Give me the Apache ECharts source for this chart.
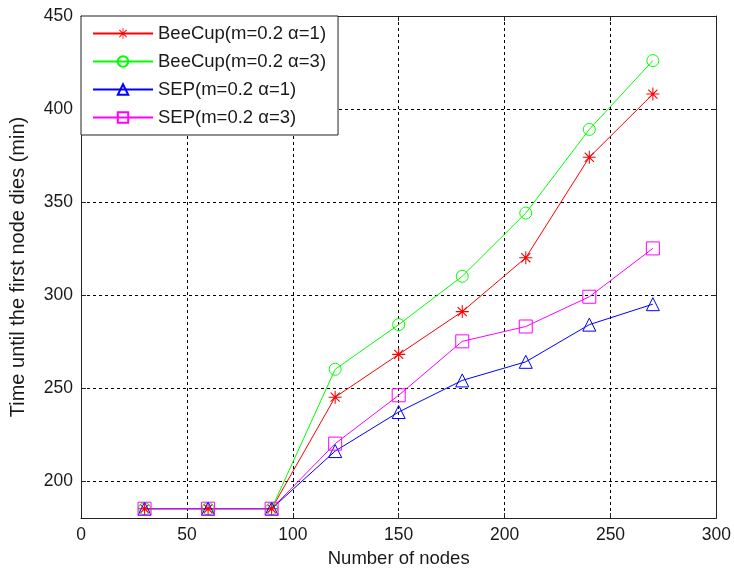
<!DOCTYPE html>
<html><head><meta charset="utf-8">
<script src="https://cdn.jsdelivr.net/npm/echarts@6/dist/echarts.min.js"></script>
<style>html,body{margin:0;padding:0;background:#fff}#c{width:734px;height:574px}</style>
</head><body><div id="c"></div>
<script>
var nodes = [30, 60, 90, 120, 150, 180, 210, 240, 270];
var beeCup1 = [185, 185, 185, 245, 268, 291, 320, 374, 408];
var beeCup3 = [185, 185, 185, 260, 284, 310, 344, 389, 426];
var sep1 = [185, 185, 185, 216, 237, 254, 264, 284, 295];
var sep3 = [185, 185, 185, 220, 246, 275, 283, 299, 325];
var seriesNames = ['BeeCup(m=0.2 α=1)', 'BeeCup(m=0.2 α=3)', 'SEP(m=0.2 α=1)', 'SEP(m=0.2 α=3)'];
var yTicks = [200, 250, 300, 350, 400, 450];

var star = 'path://M9.2,0H10.8V20H9.2Z M0,9.2H20V10.8H0Z M2.4,3.6L3.6,2.4L17.6,16.4L16.4,17.6Z M16.4,2.4L17.6,3.6L3.6,17.6L2.4,16.4Z';
var FONT = 'Liberation Sans, Arial, sans-serif';
var TXT = '#1a1a1a';

function pairs(v){ return nodes.map(function(x,i){ return [x, v[i]]; }); }
function mk(name, data, color, symbol, size, filled){
  return {
    name: name, type: 'line', data: pairs(data),
    symbol: symbol, symbolSize: size,
    lineStyle: {color: color, width: 1},
    itemStyle: filled ? {color: color} : {color: 'rgba(0,0,0,0)', borderColor: color, borderWidth: 1},
    emphasis: {disabled: true}, animation: false
  };
}

var chart = echarts.init(document.getElementById('c'));
chart.setOption({
  backgroundColor: '#fff',
  animation: false,
  grid: {left: 80, right: 17, top: 16, bottom: 56, containLabel: false},
  legend: {
    left: 81, top: 16, orient: 'vertical',
    backgroundColor: '#fff', borderColor: '#222', borderWidth: 1,
    padding: [8, 12, 8, 11], itemGap: 9, itemWidth: 60, itemHeight: 13,
    textStyle: {fontFamily: FONT, fontSize: 18.5, color: TXT, lineHeight: 18.5},
    data: seriesNames
  },
  xAxis: [{
    type: 'value', min: 0, max: 300, interval: 50,
    name: 'Number of nodes', nameLocation: 'middle', nameGap: 31,
    nameTextStyle: {fontFamily: FONT, fontSize: 18.5, color: TXT},
    axisLine: {show: true, onZero: false, lineStyle: {color: '#222', width: 1}},
    axisTick: {show: true, inside: true, length: 5, lineStyle: {color: '#222'}},
    axisLabel: {fontFamily: FONT, fontSize: 17.5, color: TXT, margin: 8},
    splitLine: {show: true, lineStyle: {color: '#000', type: [3, 3], width: 1}}
  }, {
    type: 'value', min: 0, max: 300, interval: 50, position: 'top',
    axisLine: {show: true, onZero: false, lineStyle: {color: '#222', width: 1}},
    axisTick: {show: true, inside: true, length: 5, lineStyle: {color: '#222'}},
    axisLabel: {show: false}, splitLine: {show: false}
  }],
  yAxis: [{
    type: 'value', min: 180, max: 450,
    name: 'Time until the first node dies (min)', nameLocation: 'middle', nameGap: 53,
    nameTextStyle: {fontFamily: FONT, fontSize: 20, color: TXT},
    axisLine: {show: true, onZero: false, lineStyle: {color: '#222', width: 1}},
    axisTick: {show: true, inside: true, length: 5, customValues: yTicks, lineStyle: {color: '#222'}},
    axisLabel: {fontFamily: FONT, fontSize: 17.5, color: TXT, margin: 8, customValues: yTicks},
    splitLine: {show: true, lineStyle: {color: '#000', type: [3, 3], width: 1}}
  }, {
    type: 'value', min: 180, max: 450, position: 'right',
    axisLine: {show: true, onZero: false, lineStyle: {color: '#222', width: 1}},
    axisTick: {show: true, inside: true, length: 5, customValues: yTicks, lineStyle: {color: '#222'}},
    axisLabel: {show: false, customValues: yTicks}, splitLine: {show: false}
  }],
  series: [
    mk(seriesNames[0], beeCup1, '#ff0000', star, 13, true),
    mk(seriesNames[1], beeCup3, '#00ff00', 'circle', 12, false),
    mk(seriesNames[2], sep1, '#0000ff', 'triangle', 13, false),
    mk(seriesNames[3], sep3, '#ff00ff', 'rect', 13, false)
  ]
});
</script>
</body></html>
